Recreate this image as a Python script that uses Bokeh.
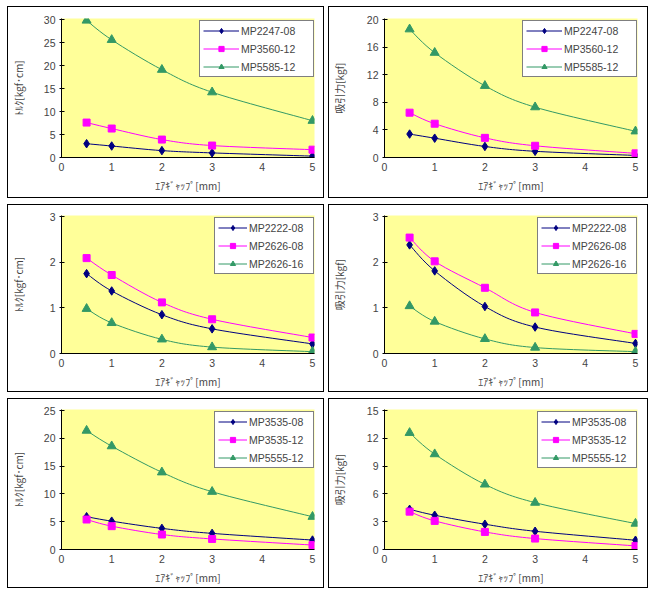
from bokeh.plotting import figure
from bokeh.models import FixedTicker, Legend, LegendItem, Range1d, ColumnDataSource
from bokeh.layouts import column, row
from bokeh.embed import file_html
from bokeh.resources import INLINE

# ---------------- data ----------------
x_gap = [0.5, 1, 2, 3, 5]
x_ticks = [0, 1, 2, 3, 4, 5]

x_title = "ｴｱｷﾞｬｯﾌﾟ[mm]"
torque_title = "ﾄﾙｸ[kgf･cm]"
force_title = "吸引力[kgf]"

# row 1
row1_labels = ["MP2247-08", "MP3560-12", "MP5585-12"]
t1_MP2247_08 = [3.0, 2.5, 1.5, 1.0, 0.3]
t1_MP3560_12 = [7.6, 6.3, 3.9, 2.6, 1.7]
t1_MP5585_12 = [29.8, 25.6, 19.1, 14.2, 8.0]
t1_ticks = [0, 5, 10, 15, 20, 25, 30]
f1_MP2247_08 = [3.4, 2.8, 1.6, 0.9, 0.3]
f1_MP3560_12 = [6.5, 4.9, 2.85, 1.7, 0.6]
f1_MP5585_12 = [18.6, 15.2, 10.4, 7.3, 3.8]
f1_ticks = [0, 4, 8, 12, 16, 20]

# row 2
row2_labels = ["MP2222-08", "MP2626-08", "MP2626-16"]
t2_MP2222_08 = [1.75, 1.37, 0.85, 0.54, 0.21]
t2_MP2626_08 = [2.09, 1.72, 1.12, 0.75, 0.35]
t2_MP2626_16 = [0.98, 0.67, 0.31, 0.14, 0.04]
t2_ticks = [0, 1, 2, 3]
f2_MP2222_08 = [2.38, 1.81, 1.03, 0.58, 0.22]
f2_MP2626_08 = [2.54, 2.02, 1.44, 0.90, 0.43]
f2_MP2626_16 = [1.04, 0.70, 0.32, 0.13, 0.04]
f2_ticks = [0, 1, 2, 3]

# row 3
row3_labels = ["MP3535-08", "MP3535-12", "MP5555-12"]
t3_MP3535_08 = [5.9, 5.1, 3.8, 2.9, 1.7]
t3_MP3535_12 = [5.4, 4.2, 2.7, 1.9, 0.8]
t3_MP5555_12 = [21.4, 18.6, 13.9, 10.4, 5.9]
t3_ticks = [0, 5, 10, 15, 20, 25]
f3_MP3535_08 = [4.34, 3.7, 2.73, 1.97, 1.0]
f3_MP3535_12 = [4.09, 3.09, 1.9, 1.18, 0.39]
f3_MP5555_12 = [12.6, 10.3, 7.03, 5.06, 2.8]
f3_ticks = [0, 3, 6, 9, 12, 15]

# ---------------- styling ----------------
COLORS = ["#000080", "#FF00FF", "#339966"]
MARKERS = ["diamond", "square", "triangle"]
SIZES = [8.5, 7, 9]
YELLOW = "#FFFF99"
FONT_NUM = "Liberation Sans"
FONT_JP = "Noto Sans CJK JP"


def smooth_segments(xs, ys):
    """Cubic Bezier segments (Catmull-Rom style) through the data points."""
    n = len(xs)
    d = dict(x0=[], y0=[], x1=[], y1=[], cx0=[], cy0=[], cx1=[], cy1=[])
    for i in range(n - 1):
        a = max(i - 1, 0)
        b = min(i + 2, n - 1)
        d["x0"].append(xs[i]); d["y0"].append(ys[i])
        d["x1"].append(xs[i + 1]); d["y1"].append(ys[i + 1])
        d["cx0"].append(xs[i] + (xs[i + 1] - xs[a]) / 6.0)
        d["cy0"].append(ys[i] + (ys[i + 1] - ys[a]) / 6.0)
        d["cx1"].append(xs[i + 1] - (xs[b] - xs[i]) / 6.0)
        d["cy1"].append(ys[i + 1] - (ys[b] - ys[i]) / 6.0)
    return d


def make_panel(series, labels, yticks, ytitle, wide_legend, W, H, BL, BR, BT, BB):
    p = figure(width=W, height=H, output_backend="svg", toolbar_location=None,
               x_range=Range1d(0, 5.04), y_range=Range1d(0, yticks[-1] * 1.008),
               min_border_left=BL, min_border_right=BR,
               min_border_top=BT, min_border_bottom=BB)
    p.title.visible = False
    p.background_fill_color = YELLOW
    p.border_fill_color = "white"
    p.border_fill_alpha = 0.0
    p.outline_line_color = None
    p.grid.visible = False
    p.styles = {"outline": "1px solid black", "outline-offset": "-1px"}

    xa = p.xaxis[0]
    xa.ticker = FixedTicker(ticks=x_ticks)
    xa.major_tick_in = 0
    xa.major_tick_out = 0
    xa.minor_tick_in = 0
    xa.minor_tick_out = 0
    xa.axis_line_color = "black"
    xa.major_label_text_font = FONT_NUM
    xa.major_label_text_font_size = "10.5px"
    xa.major_label_standoff = 5
    xa.axis_label = x_title
    xa.axis_label_text_font = FONT_JP
    xa.axis_label_text_font_size = "10px"
    xa.axis_label_text_font_style = "normal"
    xa.axis_label_standoff = 4

    two_digit = yticks[-1] >= 10
    ya = p.yaxis[0]
    ya.ticker = FixedTicker(ticks=yticks)
    ya.major_tick_in = 3
    ya.major_tick_out = 2
    ya.minor_tick_in = 0
    ya.minor_tick_out = 0
    ya.axis_line_color = "black"
    ya.major_label_text_font = FONT_NUM
    ya.major_label_text_font_size = "10.5px"
    ya.major_label_standoff = 4
    ya.axis_label = ytitle
    ya.axis_label_text_font = FONT_JP
    ya.axis_label_text_font_size = "10px"
    ya.axis_label_text_font_style = "normal"
    ya.axis_label_standoff = (16 if two_digit else 22) + (BL - 49)

    items = []
    for ys, lab, col, mk, sz in zip(series, labels, COLORS, MARKERS, SIZES):
        src = ColumnDataSource(smooth_segments(x_gap, ys))
        bz = p.bezier(x0="x0", y0="y0", x1="x1", y1="y1", cx0="cx0", cy0="cy0",
                      cx1="cx1", cy1="cy1", source=src, line_color=col, line_width=1)
        sc = p.scatter(x_gap, ys, marker=mk, size=sz, fill_color=col, line_color=col)
        items.append(LegendItem(label=lab, renderers=[bz, sc]))

    pad, spacing, item_h = 3, 5, 13
    if wide_legend:
        gw, lw = 36, 69
    else:
        gw, lw = 29, 61
    leg_w = pad + gw + 2 + lw + pad
    leg_h = 2 * pad + 3 * item_h + 2 * spacing
    frame_w = W - BL - BR
    frame_h = H - BT - BB
    lx = frame_w - 8 - leg_w
    ly = frame_h - 4 - leg_h
    legend = Legend(items=items, location=(lx, ly), padding=pad, spacing=spacing,
                    glyph_width=gw, glyph_height=item_h, label_height=item_h,
                    label_width=lw, label_standoff=2, margin=0,
                    border_line_color="black", border_line_width=1,
                    background_fill_color="white", background_fill_alpha=1.0,
                    label_text_font=FONT_NUM, label_text_font_size="10.5px")
    p.add_layout(legend)
    return p


# column geometry: (width, border_left, border_right); row geometry: (height, border_top, border_bottom)
COL_L = (317, 48, 10)
COL_R = (320, 50, 11)
ROW1 = (192, 12, 41)
ROW2 = (188, 11, 39)
ROW3 = (190, 11, 39)


def geo(c, r):
    return dict(W=c[0], BL=c[1], BR=c[2], H=r[0], BT=r[1], BB=r[2])


p1 = make_panel([t1_MP2247_08, t1_MP3560_12, t1_MP5585_12], row1_labels, t1_ticks, torque_title, True, **geo(COL_L, ROW1))
p2 = make_panel([f1_MP2247_08, f1_MP3560_12, f1_MP5585_12], row1_labels, f1_ticks, force_title, True, **geo(COL_R, ROW1))
p3 = make_panel([t2_MP2222_08, t2_MP2626_08, t2_MP2626_16], row2_labels, t2_ticks, torque_title, False, **geo(COL_L, ROW2))
p4 = make_panel([f2_MP2222_08, f2_MP2626_08, f2_MP2626_16], row2_labels, f2_ticks, force_title, False, **geo(COL_R, ROW2))
p5 = make_panel([t3_MP3535_08, t3_MP3535_12, t3_MP5555_12], row3_labels, t3_ticks, torque_title, False, **geo(COL_L, ROW3))
p6 = make_panel([f3_MP3535_08, f3_MP3535_12, f3_MP5555_12], row3_labels, f3_ticks, force_title, False, **geo(COL_R, ROW3))

layout = column(row(p1, p2, spacing=4), row(p3, p4, spacing=4), row(p5, p6, spacing=4),
                spacing=6, margin=(6, 0, 0, 7))

open("out.html", "w").write(file_html(layout, INLINE))
